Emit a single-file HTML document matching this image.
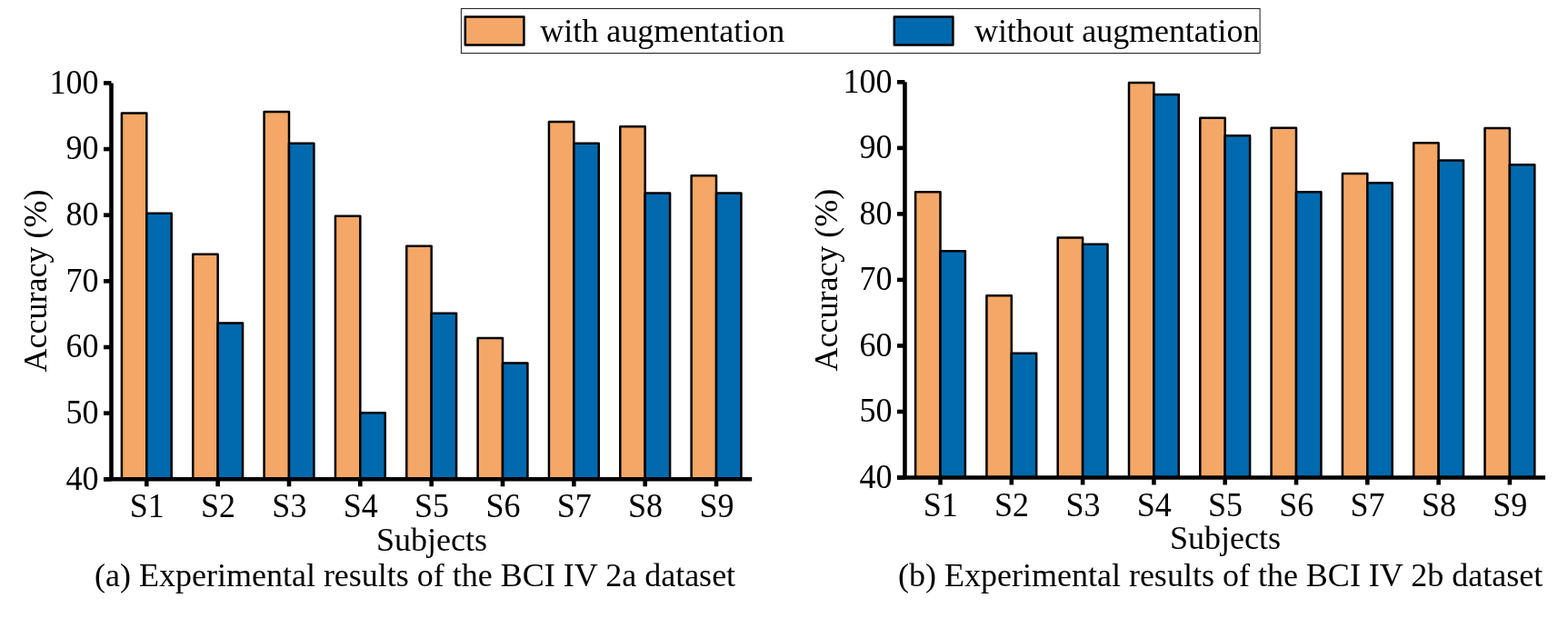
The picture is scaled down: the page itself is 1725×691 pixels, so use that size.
<!DOCTYPE html>
<html><head><meta charset="utf-8"><title>Augmentation results</title>
<style>
html,body{margin:0;padding:0;background:#fff;}
body{width:1725px;height:691px;overflow:hidden;}
svg{display:block;}
svg text{font-family:'Liberation Serif', 'Times New Roman', serif;font-size:36px;fill:#000;}
</style></head>
<body>
<svg width="1725" height="691" viewBox="0 0 1725 691">
<rect width="1725" height="691" fill="#fff"/>

<rect x="507.4" y="9.45" width="878.7" height="49.1" fill="#fff" stroke="#222" stroke-width="1.05"/>
<rect x="511.8" y="18.4" width="64.6" height="31.2" fill="#F4A766" stroke="#000" stroke-width="2.5" stroke-linejoin="round"/>
<text x="594.3" y="46.25">with augmentation</text>
<rect x="983.8" y="18.4" width="64.6" height="31.2" fill="#0169AE" stroke="#000" stroke-width="2.5" stroke-linejoin="round"/>
<text x="1072" y="46.25" textLength="313.4" lengthAdjust="spacing">without augmentation</text>

<rect x="133.90" y="124.45" width="27.40" height="402.85" fill="#F4A766" stroke="#000" stroke-width="2.5" stroke-linejoin="round"/>
<rect x="161.30" y="234.85" width="27.40" height="292.45" fill="#0169AE" stroke="#000" stroke-width="2.5" stroke-linejoin="round"/>
<rect x="212.24" y="279.65" width="27.40" height="247.65" fill="#F4A766" stroke="#000" stroke-width="2.5" stroke-linejoin="round"/>
<rect x="239.64" y="355.55" width="27.40" height="171.75" fill="#0169AE" stroke="#000" stroke-width="2.5" stroke-linejoin="round"/>
<rect x="290.58" y="123.05" width="27.40" height="404.25" fill="#F4A766" stroke="#000" stroke-width="2.5" stroke-linejoin="round"/>
<rect x="317.98" y="157.85" width="27.40" height="369.45" fill="#0169AE" stroke="#000" stroke-width="2.5" stroke-linejoin="round"/>
<rect x="368.92" y="237.65" width="27.40" height="289.65" fill="#F4A766" stroke="#000" stroke-width="2.5" stroke-linejoin="round"/>
<rect x="396.32" y="454.15" width="27.40" height="73.15" fill="#0169AE" stroke="#000" stroke-width="2.5" stroke-linejoin="round"/>
<rect x="447.26" y="270.85" width="27.40" height="256.45" fill="#F4A766" stroke="#000" stroke-width="2.5" stroke-linejoin="round"/>
<rect x="474.66" y="344.85" width="27.40" height="182.45" fill="#0169AE" stroke="#000" stroke-width="2.5" stroke-linejoin="round"/>
<rect x="525.60" y="372.05" width="27.40" height="155.25" fill="#F4A766" stroke="#000" stroke-width="2.5" stroke-linejoin="round"/>
<rect x="553.00" y="399.55" width="27.40" height="127.75" fill="#0169AE" stroke="#000" stroke-width="2.5" stroke-linejoin="round"/>
<rect x="603.94" y="133.90" width="27.40" height="393.40" fill="#F4A766" stroke="#000" stroke-width="2.5" stroke-linejoin="round"/>
<rect x="631.34" y="157.65" width="27.40" height="369.65" fill="#0169AE" stroke="#000" stroke-width="2.5" stroke-linejoin="round"/>
<rect x="682.28" y="139.25" width="27.40" height="388.05" fill="#F4A766" stroke="#000" stroke-width="2.5" stroke-linejoin="round"/>
<rect x="709.68" y="212.45" width="27.40" height="314.85" fill="#0169AE" stroke="#000" stroke-width="2.5" stroke-linejoin="round"/>
<rect x="760.62" y="193.35" width="27.40" height="333.95" fill="#F4A766" stroke="#000" stroke-width="2.5" stroke-linejoin="round"/>
<rect x="788.02" y="212.45" width="27.40" height="314.85" fill="#0169AE" stroke="#000" stroke-width="2.5" stroke-linejoin="round"/>
<line x1="122.48" y1="91.40" x2="122.48" y2="527.30" stroke="#000" stroke-width="4.6"/>
<line x1="113.98" y1="527.30" x2="827.19" y2="527.30" stroke="#000" stroke-width="4.6"/>
<line x1="113.98" y1="527.30" x2="122.48" y2="527.30" stroke="#000" stroke-width="4.6"/>
<text transform="translate(108.50,538.50) scale(1,1.028)" text-anchor="end">40</text>
<line x1="113.98" y1="454.65" x2="122.48" y2="454.65" stroke="#000" stroke-width="4.6"/>
<text transform="translate(108.50,465.85) scale(1,1.028)" text-anchor="end">50</text>
<line x1="113.98" y1="382.00" x2="122.48" y2="382.00" stroke="#000" stroke-width="4.6"/>
<text transform="translate(108.50,393.20) scale(1,1.028)" text-anchor="end">60</text>
<line x1="113.98" y1="309.35" x2="122.48" y2="309.35" stroke="#000" stroke-width="4.6"/>
<text transform="translate(108.50,320.55) scale(1,1.028)" text-anchor="end">70</text>
<line x1="113.98" y1="236.70" x2="122.48" y2="236.70" stroke="#000" stroke-width="4.6"/>
<text transform="translate(108.50,247.90) scale(1,1.028)" text-anchor="end">80</text>
<line x1="113.98" y1="164.05" x2="122.48" y2="164.05" stroke="#000" stroke-width="4.6"/>
<text transform="translate(108.50,175.25) scale(1,1.028)" text-anchor="end">90</text>
<line x1="113.98" y1="91.40" x2="122.48" y2="91.40" stroke="#000" stroke-width="4.6"/>
<text transform="translate(108.50,102.60) scale(1,1.028)" text-anchor="end">100</text>
<line x1="161.30" y1="527.30" x2="161.30" y2="535.30" stroke="#000" stroke-width="4.6"/>
<text transform="translate(161.70,569.00) scale(1,1.035)" text-anchor="middle">S1</text>
<line x1="239.64" y1="527.30" x2="239.64" y2="535.30" stroke="#000" stroke-width="4.6"/>
<text transform="translate(240.04,569.00) scale(1,1.035)" text-anchor="middle">S2</text>
<line x1="317.98" y1="527.30" x2="317.98" y2="535.30" stroke="#000" stroke-width="4.6"/>
<text transform="translate(318.38,569.00) scale(1,1.035)" text-anchor="middle">S3</text>
<line x1="396.32" y1="527.30" x2="396.32" y2="535.30" stroke="#000" stroke-width="4.6"/>
<text transform="translate(396.72,569.00) scale(1,1.035)" text-anchor="middle">S4</text>
<line x1="474.66" y1="527.30" x2="474.66" y2="535.30" stroke="#000" stroke-width="4.6"/>
<text transform="translate(475.06,569.00) scale(1,1.035)" text-anchor="middle">S5</text>
<line x1="553.00" y1="527.30" x2="553.00" y2="535.30" stroke="#000" stroke-width="4.6"/>
<text transform="translate(553.40,569.00) scale(1,1.035)" text-anchor="middle">S6</text>
<line x1="631.34" y1="527.30" x2="631.34" y2="535.30" stroke="#000" stroke-width="4.6"/>
<text transform="translate(631.74,569.00) scale(1,1.035)" text-anchor="middle">S7</text>
<line x1="709.68" y1="527.30" x2="709.68" y2="535.30" stroke="#000" stroke-width="4.6"/>
<text transform="translate(710.08,569.00) scale(1,1.035)" text-anchor="middle">S8</text>
<line x1="788.02" y1="527.30" x2="788.02" y2="535.30" stroke="#000" stroke-width="4.6"/>
<text transform="translate(788.42,569.00) scale(1,1.035)" text-anchor="middle">S9</text>
<text transform="translate(51.00,309.00) rotate(-90)" text-anchor="middle">Accuracy (%)</text>
<text x="475.00" y="605.70" text-anchor="middle">Subjects</text>
<text x="104.00" y="644.80">(a) Experimental results of the BCI IV 2a dataset</text>
<rect x="1007.10" y="211.25" width="27.40" height="314.25" fill="#F4A766" stroke="#000" stroke-width="2.5" stroke-linejoin="round"/>
<rect x="1034.50" y="276.15" width="27.40" height="249.35" fill="#0169AE" stroke="#000" stroke-width="2.5" stroke-linejoin="round"/>
<rect x="1085.40" y="325.15" width="27.40" height="200.35" fill="#F4A766" stroke="#000" stroke-width="2.5" stroke-linejoin="round"/>
<rect x="1112.80" y="388.85" width="27.40" height="136.65" fill="#0169AE" stroke="#000" stroke-width="2.5" stroke-linejoin="round"/>
<rect x="1163.70" y="261.55" width="27.40" height="263.95" fill="#F4A766" stroke="#000" stroke-width="2.5" stroke-linejoin="round"/>
<rect x="1191.10" y="268.85" width="27.40" height="256.65" fill="#0169AE" stroke="#000" stroke-width="2.5" stroke-linejoin="round"/>
<rect x="1242.00" y="91.05" width="27.40" height="434.45" fill="#F4A766" stroke="#000" stroke-width="2.5" stroke-linejoin="round"/>
<rect x="1269.40" y="104.05" width="27.40" height="421.45" fill="#0169AE" stroke="#000" stroke-width="2.5" stroke-linejoin="round"/>
<rect x="1320.30" y="129.75" width="27.40" height="395.75" fill="#F4A766" stroke="#000" stroke-width="2.5" stroke-linejoin="round"/>
<rect x="1347.70" y="149.15" width="27.40" height="376.35" fill="#0169AE" stroke="#000" stroke-width="2.5" stroke-linejoin="round"/>
<rect x="1398.60" y="140.85" width="27.40" height="384.65" fill="#F4A766" stroke="#000" stroke-width="2.5" stroke-linejoin="round"/>
<rect x="1426.00" y="211.25" width="27.40" height="314.25" fill="#0169AE" stroke="#000" stroke-width="2.5" stroke-linejoin="round"/>
<rect x="1476.90" y="191.05" width="27.40" height="334.45" fill="#F4A766" stroke="#000" stroke-width="2.5" stroke-linejoin="round"/>
<rect x="1504.30" y="201.25" width="27.40" height="324.25" fill="#0169AE" stroke="#000" stroke-width="2.5" stroke-linejoin="round"/>
<rect x="1555.20" y="157.25" width="27.40" height="368.25" fill="#F4A766" stroke="#000" stroke-width="2.5" stroke-linejoin="round"/>
<rect x="1582.60" y="176.45" width="27.40" height="349.05" fill="#0169AE" stroke="#000" stroke-width="2.5" stroke-linejoin="round"/>
<rect x="1633.50" y="141.05" width="27.40" height="384.45" fill="#F4A766" stroke="#000" stroke-width="2.5" stroke-linejoin="round"/>
<rect x="1660.90" y="181.35" width="27.40" height="344.15" fill="#0169AE" stroke="#000" stroke-width="2.5" stroke-linejoin="round"/>
<line x1="995.45" y1="90.32" x2="995.45" y2="525.50" stroke="#000" stroke-width="4.6"/>
<line x1="986.95" y1="525.50" x2="1700.05" y2="525.50" stroke="#000" stroke-width="4.6"/>
<line x1="986.95" y1="525.50" x2="995.45" y2="525.50" stroke="#000" stroke-width="4.6"/>
<text transform="translate(981.50,537.00) scale(1,1.028)" text-anchor="end">40</text>
<line x1="986.95" y1="452.97" x2="995.45" y2="452.97" stroke="#000" stroke-width="4.6"/>
<text transform="translate(981.50,464.47) scale(1,1.028)" text-anchor="end">50</text>
<line x1="986.95" y1="380.44" x2="995.45" y2="380.44" stroke="#000" stroke-width="4.6"/>
<text transform="translate(981.50,391.94) scale(1,1.028)" text-anchor="end">60</text>
<line x1="986.95" y1="307.91" x2="995.45" y2="307.91" stroke="#000" stroke-width="4.6"/>
<text transform="translate(981.50,319.41) scale(1,1.028)" text-anchor="end">70</text>
<line x1="986.95" y1="235.38" x2="995.45" y2="235.38" stroke="#000" stroke-width="4.6"/>
<text transform="translate(981.50,246.88) scale(1,1.028)" text-anchor="end">80</text>
<line x1="986.95" y1="162.85" x2="995.45" y2="162.85" stroke="#000" stroke-width="4.6"/>
<text transform="translate(981.50,174.35) scale(1,1.028)" text-anchor="end">90</text>
<line x1="986.95" y1="90.32" x2="995.45" y2="90.32" stroke="#000" stroke-width="4.6"/>
<text transform="translate(981.50,101.82) scale(1,1.028)" text-anchor="end">100</text>
<line x1="1034.50" y1="525.50" x2="1034.50" y2="533.50" stroke="#000" stroke-width="4.6"/>
<text transform="translate(1034.80,567.50) scale(1,1.035)" text-anchor="middle">S1</text>
<line x1="1112.80" y1="525.50" x2="1112.80" y2="533.50" stroke="#000" stroke-width="4.6"/>
<text transform="translate(1113.10,567.50) scale(1,1.035)" text-anchor="middle">S2</text>
<line x1="1191.10" y1="525.50" x2="1191.10" y2="533.50" stroke="#000" stroke-width="4.6"/>
<text transform="translate(1191.40,567.50) scale(1,1.035)" text-anchor="middle">S3</text>
<line x1="1269.40" y1="525.50" x2="1269.40" y2="533.50" stroke="#000" stroke-width="4.6"/>
<text transform="translate(1269.70,567.50) scale(1,1.035)" text-anchor="middle">S4</text>
<line x1="1347.70" y1="525.50" x2="1347.70" y2="533.50" stroke="#000" stroke-width="4.6"/>
<text transform="translate(1348.00,567.50) scale(1,1.035)" text-anchor="middle">S5</text>
<line x1="1426.00" y1="525.50" x2="1426.00" y2="533.50" stroke="#000" stroke-width="4.6"/>
<text transform="translate(1426.30,567.50) scale(1,1.035)" text-anchor="middle">S6</text>
<line x1="1504.30" y1="525.50" x2="1504.30" y2="533.50" stroke="#000" stroke-width="4.6"/>
<text transform="translate(1504.60,567.50) scale(1,1.035)" text-anchor="middle">S7</text>
<line x1="1582.60" y1="525.50" x2="1582.60" y2="533.50" stroke="#000" stroke-width="4.6"/>
<text transform="translate(1582.90,567.50) scale(1,1.035)" text-anchor="middle">S8</text>
<line x1="1660.90" y1="525.50" x2="1660.90" y2="533.50" stroke="#000" stroke-width="4.6"/>
<text transform="translate(1661.20,567.50) scale(1,1.035)" text-anchor="middle">S9</text>
<text transform="translate(921.30,308.10) rotate(-90)" text-anchor="middle">Accuracy (%)</text>
<text x="1348.00" y="604.00" text-anchor="middle">Subjects</text>
<text x="988.00" y="644.90">(b) Experimental results of the BCI IV 2b dataset</text>
</svg>
</body></html>
